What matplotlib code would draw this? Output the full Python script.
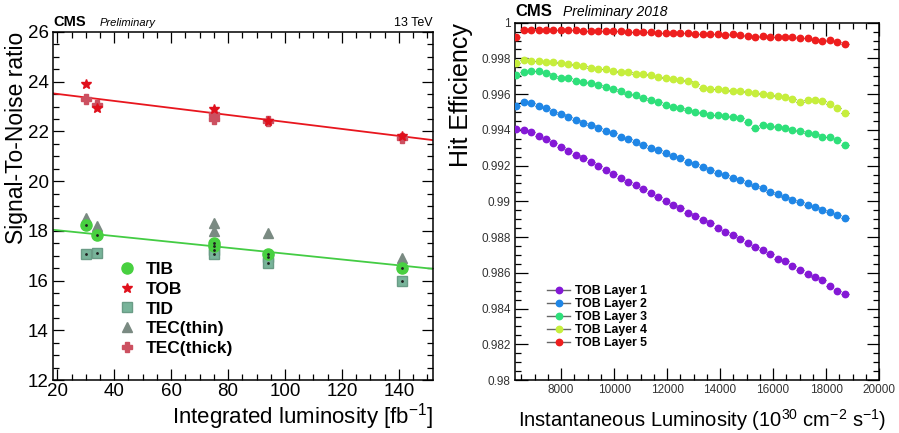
import matplotlib
matplotlib.use("Agg")
import matplotlib.pyplot as plt
from matplotlib.lines import Line2D
from matplotlib.ticker import MultipleLocator

plt.rcParams["font.family"] = ["Liberation Sans", "DejaVu Sans"]
plt.rcParams["mathtext.fontset"] = "custom"
plt.rcParams["mathtext.rm"] = "Liberation Sans"

# ---------------- Signal-to-noise vs integrated luminosity ----------------
tib_x = [30, 34, 75, 75, 94, 141]
tib_y = [18.25, 17.82, 17.50, 17.40, 17.05, 16.52]
tob_x = [30, 34, 75, 94, 141]
tob_y = [23.92, 22.95, 22.92, 22.40, 21.80]
tid_x = [30, 34, 75, 75, 94, 94, 141]
tid_y = [17.05, 17.12, 17.22, 17.05, 16.95, 16.72, 16.00]
tec_thin_x = [30, 30, 34, 75, 75, 94, 141]
tec_thin_y = [18.52, 18.38, 18.20, 18.30, 18.00, 17.90, 16.90]
tec_thick_x = [30, 34, 75, 75, 94, 141]
tec_thick_y = [23.32, 23.05, 22.70, 22.50, 22.42, 21.75]

# linear fits (intercept, slope)
fit_high = (23.79, -0.01408)
fit_low = (18.26, -0.01176)
fit_range = [18.5, 152.0]

# ---------------- Hit efficiency vs instantaneous luminosity ----------------
inst_lumi = [6300, 6580, 6860, 7150, 7430, 7710, 7990, 8270, 8560, 8840,
             9120, 9400, 9680, 9970, 10250, 10530, 10810, 11090, 11380, 11660,
             11940, 12220, 12500, 12790, 13070, 13350, 13630, 13910, 14200, 14480,
             14760, 15040, 15320, 15610, 15890, 16170, 16450, 16730, 17020, 17300,
             17580, 17860, 18140, 18430, 18710]
layer1 = [0.99403, 0.99398, 0.99390, 0.99368, 0.99348, 0.99325, 0.99305, 0.99282, 0.99262, 0.99240,
          0.99218, 0.99197, 0.99178, 0.99152, 0.99132, 0.99110, 0.99092, 0.99068, 0.99045, 0.99025,
          0.99000, 0.98982, 0.98962, 0.98937, 0.98918, 0.98895, 0.98877, 0.98852, 0.98830, 0.98812,
          0.98790, 0.98768, 0.98742, 0.98725, 0.98705, 0.98680, 0.98665, 0.98640, 0.98618, 0.98592,
          0.98575, 0.98557, 0.98528, 0.98500, 0.98483]
layer2 = [0.99532, 0.99556, 0.99552, 0.99536, 0.99522, 0.99500, 0.99490, 0.99470, 0.99458, 0.99440,
          0.99425, 0.99410, 0.99392, 0.99380, 0.99362, 0.99348, 0.99332, 0.99318, 0.99300, 0.99288,
          0.99270, 0.99255, 0.99240, 0.99222, 0.99210, 0.99190, 0.99178, 0.99160, 0.99148, 0.99130,
          0.99118, 0.99100, 0.99085, 0.99072, 0.99055, 0.99040, 0.99025, 0.99010, 0.98998, 0.98982,
          0.98968, 0.98952, 0.98940, 0.98922, 0.98905]
layer3 = [0.99707, 0.99725, 0.99731, 0.99730, 0.99720, 0.99700, 0.99690, 0.99688, 0.99675, 0.99668,
          0.99660, 0.99650, 0.99640, 0.99630, 0.99615, 0.99602, 0.99595, 0.99580, 0.99570, 0.99555,
          0.99540, 0.99530, 0.99520, 0.99512, 0.99500, 0.99492, 0.99485, 0.99482, 0.99476, 0.99472,
          0.99468, 0.99445, 0.99410, 0.99428, 0.99422, 0.99415, 0.99408, 0.99400, 0.99392, 0.99381,
          0.99375, 0.99362, 0.99358, 0.99345, 0.99315]
layer4 = [0.99776, 0.99791, 0.99788, 0.99785, 0.99782, 0.99778, 0.99776, 0.99770, 0.99765, 0.99758,
          0.99748, 0.99742, 0.99738, 0.99730, 0.99726, 0.99722, 0.99715, 0.99710, 0.99705, 0.99695,
          0.99690, 0.99685, 0.99680, 0.99672, 0.99655, 0.99632, 0.99630, 0.99628, 0.99625, 0.99620,
          0.99615, 0.99612, 0.99608, 0.99602, 0.99596, 0.99590, 0.99585, 0.99575, 0.99558, 0.99570,
          0.99568, 0.99560, 0.99545, 0.99525, 0.99493]
layer5 = [0.99922, 0.99960, 0.99960, 0.99959, 0.99958, 0.99958, 0.99961, 0.99958, 0.99957, 0.99956,
          0.99955, 0.99956, 0.99953, 0.99952, 0.99953, 0.99950, 0.99948, 0.99949, 0.99946, 0.99945,
          0.99943, 0.99942, 0.99944, 0.99941, 0.99938, 0.99937, 0.99938, 0.99935, 0.99933, 0.99934,
          0.99930, 0.99925, 0.99922, 0.99924, 0.99921, 0.99920, 0.99921, 0.99918, 0.99916, 0.99912,
          0.99905, 0.99900, 0.99902, 0.99893, 0.99883]
layer_names = ["TOB Layer 1", "TOB Layer 2", "TOB Layer 3", "TOB Layer 4", "TOB Layer 5"]
layer_colors = ["#8418d6", "#1f86e6", "#2ee07a", "#c6ee3c", "#ee1e1e"]

fig = plt.figure(figsize=(8.99, 4.33), dpi=100)
ax1 = fig.add_axes([0.059, 0.1224, 0.4227, 0.8037])
ax2 = fig.add_axes([0.5729, 0.1224, 0.4049, 0.8252])


def root_style(ax, major_len=8, minor_len=4.2, labelsize=13):
    ax.tick_params(which="both", direction="in", top=True, right=True, width=0.9)
    ax.tick_params(which="major", length=major_len, labelsize=labelsize, pad=3)
    ax.tick_params(which="minor", length=minor_len)
    for s in ax.spines.values():
        s.set_linewidth(1.1)


# --- left panel
xs = fit_range
ax1.plot(xs, [fit_high[0] + fit_high[1] * x for x in xs], color="#e8161e", lw=1.3, zorder=2)
ax1.plot(xs, [fit_low[0] + fit_low[1] * x for x in xs], color="#44cc44", lw=1.3, zorder=2)

ax1.plot(tec_thin_x, tec_thin_y, "^", color="#7a8a82", ms=7, ls="none", zorder=3, label="TEC(thin)")
ax1.plot(tid_x, tid_y, "s", color="#78b49a", mec="#6a9c86", ms=7.5, ls="none", zorder=3, label="TID")
ax1.plot(tib_x, tib_y, "o", color="#48d040", ms=8, ls="none", zorder=4, label="TIB")
ax1.plot(tid_x, tid_y, ".", color="#202020", ms=2, ls="none", zorder=5)
ax1.plot(tib_x, tib_y, ".", color="#202020", ms=2, ls="none", zorder=5)
ax1.plot(tec_thick_x, tec_thick_y, "P", color="#cc5060", ms=7, ls="none", zorder=3, label="TEC(thick)")
ax1.plot(tob_x, tob_y, "*", color="#e0101c", ms=7, ls="none", zorder=4, label="TOB")

ax1.set_xlim(18.5, 152)
ax1.set_ylim(12, 26)
ax1.xaxis.set_major_locator(MultipleLocator(20))
ax1.xaxis.set_minor_locator(MultipleLocator(5))
ax1.yaxis.set_major_locator(MultipleLocator(2))
ax1.yaxis.set_minor_locator(MultipleLocator(0.5))
root_style(ax1, major_len=8, minor_len=4.2, labelsize=13.5)
ax1.tick_params(axis="x", which="major", pad=2)
ax1.set_ylabel("Signal-To-Noise ratio", fontsize=16.5, loc="top", labelpad=0)
ax1.set_xlabel("Integrated luminosity [fb$^{-1}$]", fontsize=16, loc="right", labelpad=1)

handles, labels = ax1.get_legend_handles_labels()
order = ["TIB", "TOB", "TID", "TEC(thin)", "TEC(thick)"]
hmap = dict(zip(labels, handles))
ax1.legend([hmap[k] for k in order], order, loc="upper left", bbox_to_anchor=(0.172, 0.34),
           frameon=False, borderaxespad=0, borderpad=0, handlelength=1.0,
           handletextpad=0.55, labelspacing=0.27, prop={"weight": "bold", "size": 12.5})

fig.text(0.059, 0.94, "CMS", fontsize=10.5, fontweight="bold", ha="left", va="baseline")
fig.text(0.111, 0.94, "Preliminary", fontsize=8, style="italic", ha="left", va="baseline")
fig.text(0.4817, 0.94, "13 TeV", fontsize=9, ha="right", va="baseline")

# --- right panel
series = [layer1, layer2, layer3, layer4, layer5]
for vals, name, col in zip(series, layer_names, layer_colors):
    ax2.errorbar(inst_lumi, vals, xerr=140, fmt="none", ecolor="#303030", elinewidth=0.6, zorder=2)
    ax2.plot(inst_lumi, vals, "o", color=col, ms=4.6, ls="none", zorder=3)

ax2.set_xlim(6260, 20000)
ax2.set_ylim(0.98, 1.0)
ax2.xaxis.set_major_locator(MultipleLocator(2000))
ax2.xaxis.set_minor_locator(MultipleLocator(500))
ax2.yaxis.set_major_locator(MultipleLocator(0.002))
ax2.yaxis.set_minor_locator(MultipleLocator(0.0005))
root_style(ax2, major_len=9, minor_len=4.5, labelsize=8.5)
ax2.set_yticks([0.98, 0.982, 0.984, 0.986, 0.988, 0.99, 0.992, 0.994, 0.996, 0.998, 1.0])
ax2.set_yticklabels(["0.98", "0.982", "0.984", "0.986", "0.988", "0.99", "0.992", "0.994",
                     "0.996", "0.998", "1"])
for lab in ax2.get_xticklabels() + ax2.get_yticklabels():
    lab.set_color("#333333")
ax2.set_ylabel("Hit Efficiency", fontsize=18, loc="top", labelpad=6)
ax2.set_xlabel("Instantaneous Luminosity (10$^{30}$ cm$^{-2}$ s$^{-1}$)", fontsize=14.5,
               loc="right", labelpad=8)
ax2.xaxis.label.set_position((1.02, 0))

leg_handles = [Line2D([0], [0], color="#666666", lw=1.0, marker="o", ms=4.6,
                      mfc=c, mec=c) for c in layer_colors]
ax2.legend(leg_handles, layer_names, loc="upper left", bbox_to_anchor=(0.088, 0.266),
           frameon=False, borderaxespad=0, borderpad=0, handlelength=1.9,
           handletextpad=0.4, labelspacing=0.09, prop={"weight": "bold", "size": 8.8})

fig.text(0.5729, 0.962, "CMS", fontsize=12, fontweight="bold", ha="left", va="baseline")
fig.text(0.626, 0.962, "Preliminary 2018", fontsize=10, style="italic", ha="left", va="baseline")

fig.savefig("out.png", dpi=100)
